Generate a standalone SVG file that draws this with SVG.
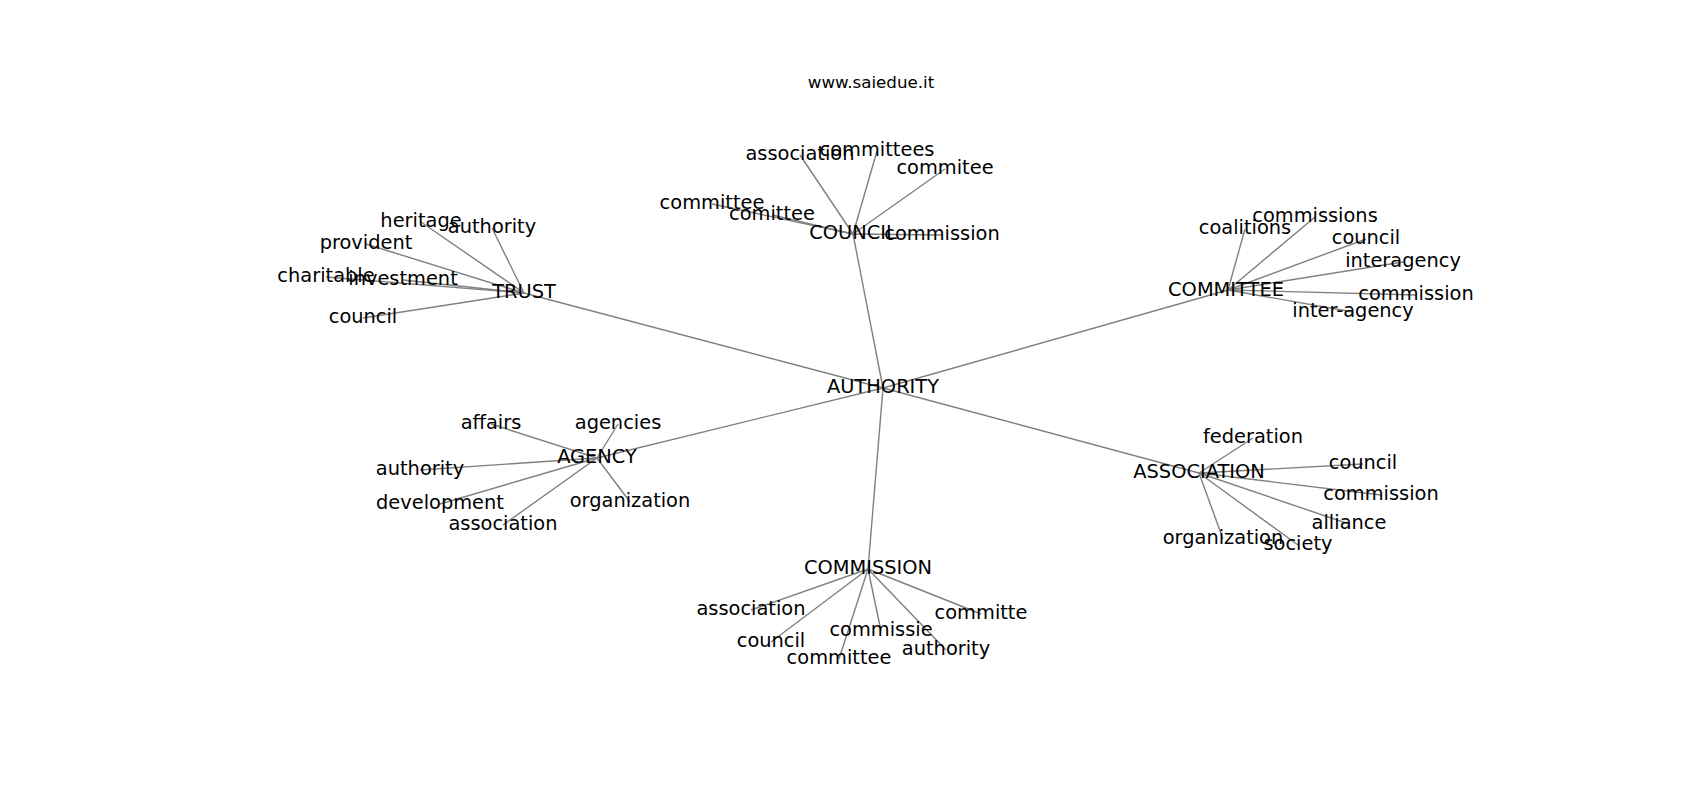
<svg xmlns="http://www.w3.org/2000/svg" width="1700" height="800" viewBox="0 0 1700 800">
<style>
text{font-family:"DejaVu Sans","Liberation Sans",sans-serif;fill:#000;text-anchor:middle}
.n{font-size:19.4px}
.t{font-size:16.7px}
#edges line{stroke:#808080;stroke-width:1.4}
</style>
<rect width="1700" height="800" fill="#fff"/>
<text class="t" x="871" y="88">www.saiedue.it</text>
<g id="edges">
<line x1="883" y1="388" x2="853" y2="234"/>
<line x1="883" y1="388" x2="524" y2="293"/>
<line x1="883" y1="388" x2="1228" y2="290"/>
<line x1="883" y1="388" x2="597" y2="458"/>
<line x1="883" y1="388" x2="1199" y2="473"/>
<line x1="883" y1="388" x2="868" y2="569"/>
<line x1="853" y1="234" x2="800" y2="155"/>
<line x1="853" y1="234" x2="877" y2="151"/>
<line x1="853" y1="234" x2="945" y2="169"/>
<line x1="853" y1="234" x2="712" y2="204"/>
<line x1="853" y1="234" x2="772" y2="215"/>
<line x1="853" y1="234" x2="942" y2="235"/>
<line x1="524" y1="293" x2="421" y2="222"/>
<line x1="524" y1="293" x2="492" y2="228"/>
<line x1="524" y1="293" x2="366" y2="244"/>
<line x1="524" y1="293" x2="326" y2="277"/>
<line x1="524" y1="293" x2="403" y2="280"/>
<line x1="524" y1="293" x2="363" y2="318"/>
<line x1="1228" y1="290" x2="1245" y2="229"/>
<line x1="1228" y1="290" x2="1315" y2="217"/>
<line x1="1228" y1="290" x2="1366" y2="239"/>
<line x1="1228" y1="290" x2="1403" y2="262"/>
<line x1="1228" y1="290" x2="1416" y2="295"/>
<line x1="1228" y1="290" x2="1353" y2="312"/>
<line x1="597" y1="458" x2="491" y2="424"/>
<line x1="597" y1="458" x2="618" y2="424"/>
<line x1="597" y1="458" x2="420" y2="470"/>
<line x1="597" y1="458" x2="440" y2="504"/>
<line x1="597" y1="458" x2="503" y2="525"/>
<line x1="597" y1="458" x2="630" y2="502"/>
<line x1="1199" y1="473" x2="1253" y2="438"/>
<line x1="1199" y1="473" x2="1363" y2="464"/>
<line x1="1199" y1="473" x2="1381" y2="495"/>
<line x1="1199" y1="473" x2="1349" y2="524"/>
<line x1="1199" y1="473" x2="1223" y2="539"/>
<line x1="1199" y1="473" x2="1298" y2="545"/>
<line x1="868" y1="569" x2="751" y2="610"/>
<line x1="868" y1="569" x2="771" y2="642"/>
<line x1="868" y1="569" x2="839" y2="659"/>
<line x1="868" y1="569" x2="881" y2="631"/>
<line x1="868" y1="569" x2="946" y2="650"/>
<line x1="868" y1="569" x2="981" y2="614"/>
</g>
<g id="n-authority"><text class="n" x="883" y="393">AUTHORITY</text></g>
<g id="n-council"><text class="n" x="853" y="239">COUNCIL</text></g>
<g id="n-trust"><text class="n" x="524" y="298">TRUST</text></g>
<g id="n-committee"><text class="n" x="1226" y="296">COMMITTEE</text></g>
<g id="n-agency"><text class="n" x="597" y="463">AGENCY</text></g>
<g id="n-association"><text class="n" x="1199" y="478">ASSOCIATION</text></g>
<g id="n-commission"><text class="n" x="868" y="574">COMMISSION</text></g>
<g id="n-council-association"><text class="n" x="800" y="160">association</text></g>
<g id="n-council-committees"><text class="n" x="877" y="156">committees</text></g>
<g id="n-council-commitee"><text class="n" x="945" y="174">commitee</text></g>
<g id="n-council-committee"><text class="n" x="712" y="209">committee</text></g>
<g id="n-council-comittee"><text class="n" x="772" y="220">comittee</text></g>
<g id="n-council-commission"><text class="n" x="942" y="240">commission</text></g>
<g id="n-trust-heritage"><text class="n" x="421" y="227">heritage</text></g>
<g id="n-trust-authority"><text class="n" x="492" y="233">authority</text></g>
<g id="n-trust-provident"><text class="n" x="366" y="249">provident</text></g>
<g id="n-trust-charitable"><text class="n" x="326" y="282">charitable</text></g>
<g id="n-trust-investment"><text class="n" x="403" y="285">investment</text></g>
<g id="n-trust-council"><text class="n" x="363" y="323">council</text></g>
<g id="n-committee-coalitions"><text class="n" x="1245" y="234">coalitions</text></g>
<g id="n-committee-commissions"><text class="n" x="1315" y="222">commissions</text></g>
<g id="n-committee-council"><text class="n" x="1366" y="244">council</text></g>
<g id="n-committee-interagency"><text class="n" x="1403" y="267">interagency</text></g>
<g id="n-committee-commission"><text class="n" x="1416" y="300">commission</text></g>
<g id="n-committee-inter-agency"><text class="n" x="1353" y="317">inter-agency</text></g>
<g id="n-agency-affairs"><text class="n" x="491" y="429">affairs</text></g>
<g id="n-agency-agencies"><text class="n" x="618" y="429">agencies</text></g>
<g id="n-agency-authority"><text class="n" x="420" y="475">authority</text></g>
<g id="n-agency-development"><text class="n" x="440" y="509">development</text></g>
<g id="n-agency-association"><text class="n" x="503" y="530">association</text></g>
<g id="n-agency-organization"><text class="n" x="630" y="507">organization</text></g>
<g id="n-association-federation"><text class="n" x="1253" y="443">federation</text></g>
<g id="n-association-council"><text class="n" x="1363" y="469">council</text></g>
<g id="n-association-commission"><text class="n" x="1381" y="500">commission</text></g>
<g id="n-association-alliance"><text class="n" x="1349" y="529">alliance</text></g>
<g id="n-association-organization"><text class="n" x="1223" y="544">organization</text></g>
<g id="n-association-society"><text class="n" x="1298" y="550">society</text></g>
<g id="n-commission-association"><text class="n" x="751" y="615">association</text></g>
<g id="n-commission-council"><text class="n" x="771" y="647">council</text></g>
<g id="n-commission-committee"><text class="n" x="839" y="664">committee</text></g>
<g id="n-commission-commissie"><text class="n" x="881" y="636">commissie</text></g>
<g id="n-commission-authority"><text class="n" x="946" y="655">authority</text></g>
<g id="n-commission-committe"><text class="n" x="981" y="619">committe</text></g>
</svg>
